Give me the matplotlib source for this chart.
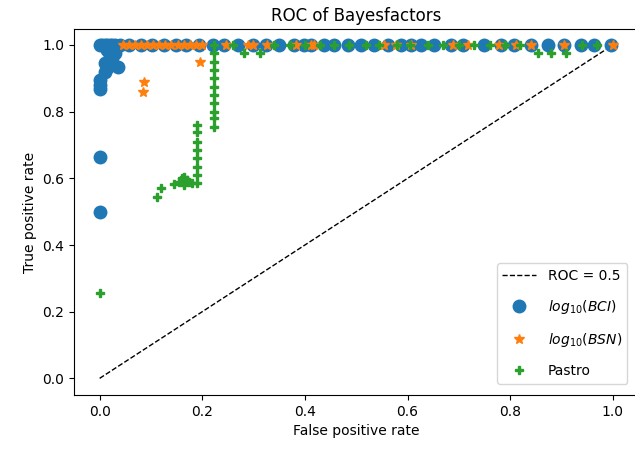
import matplotlib
matplotlib.use("Agg")
import matplotlib.pyplot as plt

# log10(BCI) ROC points
bci_fpr = [0, 0, 0, 0, 0, 0.01, 0.015, 0.02, 0.02, 0.025, 0.03, 0.035, 0.01, 0.015,
           0, 0.005, 0.01, 0.015, 0.02, 0.025, 0.03, 0.04, 0.057, 0.08, 0.103, 0.125,
           0.148, 0.168, 0.193, 0.22, 0.242, 0.269, 0.298, 0.324, 0.349, 0.378, 0.398,
           0.411, 0.437, 0.456, 0.483, 0.509, 0.535, 0.561, 0.587, 0.606, 0.626, 0.651,
           0.684, 0.709, 0.748, 0.782, 0.807, 0.840, 0.873, 0.904, 0.937, 0.963, 0.996]
bci_tpr = [0.5, 0.665, 0.868, 0.88, 0.895, 0.92, 0.93, 0.95, 0.97, 0.96, 0.975, 0.935, 0.945, 0.985,
           1, 1, 1, 1, 1, 1, 1, 1, 1, 1, 1, 1,
           1, 1, 1, 1, 1, 1, 1, 1, 1, 1, 1,
           1, 1, 1, 1, 1, 1, 1, 1, 1, 1, 1,
           1, 1, 1, 1, 1, 1, 1, 1, 1, 1, 1]

# log10(BSN) ROC points
bsn_fpr = [0.084, 0.086, 0.195, 0.045, 0.057, 0.068, 0.08, 0.092, 0.104, 0.116, 0.128,
           0.14, 0.152, 0.164, 0.176, 0.188, 0.2, 0.246, 0.29, 0.298, 0.327, 0.382,
           0.411, 0.417, 0.554, 0.577, 0.606, 0.688, 0.717, 0.778, 0.811, 0.840, 0.904, 1.0]
bsn_tpr = [0.86, 0.89, 0.95, 1, 1, 1, 1, 1, 1, 1, 1,
           1, 1, 1, 1, 1, 1, 1, 1, 1, 1, 1,
           1, 1, 1, 1, 1, 1, 1, 1, 1, 1, 1, 1]

# Pastro ROC points
pastro_fpr = [0, 0.111, 0.119, 0.145, 0.155, 0.16, 0.165, 0.17, 0.175, 0.18, 0.165,
              0.189, 0.189, 0.189, 0.189, 0.189, 0.189, 0.189, 0.189,
              0.222, 0.222, 0.222, 0.222, 0.222, 0.222, 0.222, 0.222, 0.222, 0.222, 0.222,
              0.26, 0.281, 0.312, 0.34, 0.37, 0.40, 0.43, 0.456, 0.485, 0.52, 0.545, 0.58,
              0.605, 0.64, 0.67, 0.7, 0.73, 0.76, 0.79, 0.82, 0.854, 0.879, 0.908, 0.94, 0.97]
pastro_tpr = [0.255, 0.545, 0.572, 0.583, 0.59, 0.6, 0.58, 0.595, 0.59, 0.585, 0.605,
              0.587, 0.611, 0.635, 0.662, 0.686, 0.71, 0.74, 0.76,
              0.754, 0.781, 0.799, 0.826, 0.85, 0.874, 0.901, 0.925, 0.949, 0.976, 1.0,
              1, 0.976, 0.976, 1, 1, 1, 1, 1, 1, 1, 1, 1,
              1, 1, 1, 1, 1, 1, 1, 1, 0.976, 0.976, 0.976, 1, 1]

fig = plt.figure(figsize=(6.35, 4.53), dpi=100)
ax = fig.add_axes([0.1165, 0.128, 0.889, 0.808])

ax.plot([0, 1], [0, 1], "k--", linewidth=1, label="ROC = 0.5")
ax.plot(bci_fpr, bci_tpr, "o", color="tab:blue", markersize=9, linestyle="none",
        label=r"$log_{10}(BCI)$")
ax.plot(bsn_fpr, bsn_tpr, "*", color="tab:orange", markersize=7, linestyle="none",
        label=r"$log_{10}(BSN)$")
ax.plot(pastro_fpr, pastro_tpr, "P", color="tab:green", markersize=6, linestyle="none",
        label="Pastro")

ax.set_xlim(-0.05, 1.05)
ax.set_ylim(-0.05, 1.048)
ax.set_xlabel("False positive rate")
ax.set_ylabel("True positive rate")
ax.set_title("ROC of Bayesfactors")
ax.legend(loc="lower right", handlelength=2.45, labelspacing=1.1, borderaxespad=0.8)

fig.savefig("out.png", dpi=100)
